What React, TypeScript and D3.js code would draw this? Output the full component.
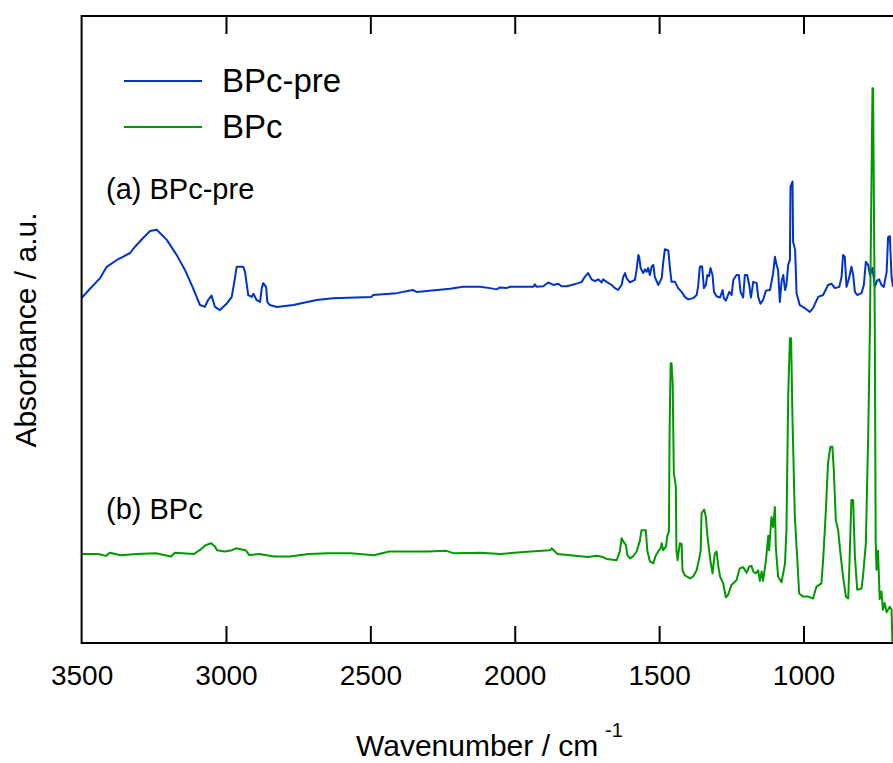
import React, { useEffect, useRef } from "react";
import * as d3 from "d3";

// Wavenumber (cm^-1) and absorbance (a.u., offset for display)
const wnA = [3500,3471,3436,3413,3374,3332,3315,3287,3263,3240,3205,3171,3142,3114,3090,3073,3062,3050,3038,3021,2998,2980,2969,2963,2940,2934,2923,2911,2905,2894,2882,2876,2871,2861,2857,2848,2824,2767,2686,2630,2496,2491,2409,2353,2340,2224,2179,2138,2120,2086,2063,2051,2028,2017,1936,1930,1924,1901,1884,1867,1849,1838,1820,1803,1780,1768,1757,1746,1734,1722,1711,1699,1694,1682,1664,1653,1642,1630,1624,1618,1613,1601,1584,1578,1572,1569,1564,1555,1549,1543,1538,1532,1526,1520,1515,1503,1491,1486,1480,1468,1463,1457,1445,1434,1422,1411,1399,1382,1370,1365,1359,1351,1345,1338,1333,1327,1322,1315,1310,1301,1289,1280,1276,1269,1257,1249,1243,1232,1224,1218,1209,1203,1195,1188,1182,1174,1162,1157,1149,1140,1130,1116,1105,1099,1093,1088,1082,1076,1070,1064,1059,1053,1047,1045,1038,1036,1029,1024,1013,995,978,967,949,932,915,903,891,876,868,863,857,851,842,834,828,822,814,799,791,784,776,770,761,753,745,738,730,722,712,707,701,695,690];
const absA = [0.550,0.565,0.582,0.600,0.612,0.622,0.632,0.646,0.657,0.659,0.643,0.619,0.595,0.566,0.539,0.536,0.547,0.554,0.536,0.531,0.541,0.552,0.582,0.600,0.600,0.592,0.555,0.552,0.557,0.547,0.544,0.566,0.574,0.568,0.544,0.539,0.536,0.539,0.547,0.550,0.552,0.555,0.558,0.563,0.560,0.565,0.568,0.568,0.568,0.566,0.564,0.567,0.566,0.568,0.568,0.572,0.568,0.569,0.575,0.571,0.573,0.569,0.569,0.571,0.574,0.576,0.584,0.590,0.580,0.577,0.580,0.575,0.580,0.576,0.571,0.566,0.563,0.571,0.584,0.590,0.582,0.575,0.579,0.595,0.619,0.616,0.598,0.590,0.596,0.592,0.598,0.587,0.600,0.603,0.584,0.571,0.582,0.606,0.628,0.626,0.600,0.576,0.576,0.566,0.560,0.552,0.548,0.550,0.555,0.568,0.600,0.601,0.566,0.571,0.587,0.585,0.598,0.587,0.560,0.553,0.551,0.563,0.550,0.546,0.560,0.555,0.579,0.587,0.587,0.560,0.551,0.587,0.587,0.571,0.551,0.576,0.574,0.552,0.541,0.547,0.562,0.563,0.590,0.616,0.603,0.595,0.544,0.576,0.587,0.563,0.571,0.603,0.611,0.728,0.736,0.640,0.627,0.558,0.539,0.534,0.528,0.534,0.552,0.555,0.571,0.573,0.566,0.568,0.584,0.619,0.616,0.568,0.582,0.600,0.587,0.560,0.555,0.558,0.571,0.608,0.603,0.587,0.598,0.568,0.578,0.580,0.571,0.568,0.592,0.647,0.649,0.584,0.568];

const wnB = [3500,3442,3416,3402,3364,3310,3243,3190,3177,3111,3091,3071,3051,3038,3031,3005,2979,2965,2932,2919,2886,2859,2833,2780,2713,2647,2568,2488,2435,2303,2237,2210,2117,2051,1945,1878,1872,1852,1746,1716,1694,1682,1647,1636,1630,1624,1615,1610,1601,1590,1578,1567,1561,1546,1541,1532,1520,1512,1503,1495,1491,1486,1476,1472,1466,1464,1463,1460,1457,1453,1451,1449,1442,1440,1436,1433,1428,1422,1419,1411,1393,1382,1370,1361,1356,1353,1344,1338,1333,1327,1322,1315,1307,1301,1295,1289,1278,1269,1261,1249,1232,1221,1209,1197,1188,1180,1174,1165,1157,1151,1145,1140,1130,1122,1119,1111,1105,1099,1096,1088,1076,1064,1059,1053,1047,1043,1038,1030,1022,1015,1001,984,967,955,938,932,923,915,907,900,895,888,880,872,863,853,845,840,834,828,822,814,799,794,784,776,770,761,759,753,750,747,742,736,730,725,719,712,701,695,692];
const absB = [0.142,0.142,0.139,0.144,0.140,0.142,0.143,0.138,0.144,0.142,0.148,0.156,0.159,0.154,0.148,0.146,0.148,0.151,0.148,0.140,0.142,0.140,0.138,0.138,0.142,0.143,0.143,0.140,0.146,0.146,0.147,0.143,0.144,0.142,0.146,0.148,0.151,0.142,0.137,0.139,0.137,0.134,0.132,0.146,0.167,0.162,0.156,0.140,0.135,0.138,0.146,0.162,0.180,0.180,0.148,0.130,0.127,0.139,0.146,0.151,0.159,0.148,0.154,0.170,0.178,0.319,0.361,0.446,0.446,0.414,0.340,0.271,0.249,0.148,0.132,0.143,0.159,0.158,0.116,0.108,0.103,0.106,0.116,0.135,0.148,0.207,0.213,0.201,0.172,0.148,0.130,0.111,0.143,0.146,0.122,0.106,0.095,0.073,0.077,0.093,0.100,0.119,0.121,0.112,0.122,0.123,0.114,0.111,0.116,0.099,0.114,0.099,0.132,0.171,0.148,0.201,0.185,0.217,0.154,0.106,0.097,0.127,0.180,0.393,0.486,0.486,0.356,0.201,0.138,0.079,0.074,0.074,0.071,0.090,0.095,0.132,0.207,0.287,0.313,0.313,0.276,0.196,0.180,0.143,0.106,0.074,0.071,0.138,0.228,0.228,0.138,0.085,0.087,0.106,0.159,0.329,0.499,0.885,0.884,0.501,0.164,0.117,0.147,0.070,0.082,0.053,0.064,0.049,0.058,0.053,0.0];

const xTicks = [3500, 3000, 2500, 2000, 1500, 1000];
const seriesNames = ["BPc-pre", "BPc"];
const seriesColors = ["#0033cc", "#009900"];
const annotations = ["(a) BPc-pre", "(b) BPc"];

const W = 893;
const H = 763;
const PL = 81.6;
const PT = 16;
const PB = 643;
const PR = 893;
const FONT = "'Liberation Sans', Arial, Helvetica, sans-serif";

export default function App() {
  const bottomRef = useRef<SVGGElement>(null);
  const topRef = useRef<SVGGElement>(null);
  const x = d3.scaleLinear().domain([3500, 690]).range([PL, PR]);
  const y = d3.scaleLinear().domain([0, 1]).range([PB, PT]);
  const line = d3
    .line<[number, number]>()
    .x((d) => x(d[0]))
    .y((d) => y(d[1]));
  const dataA: [number, number][] = wnA.map((w, i) => [w, absA[i]]);
  const dataB: [number, number][] = wnB.map((w, i) => [w, absB[i]]);

  useEffect(() => {
    if (bottomRef.current) {
      const g = d3.select(bottomRef.current);
      g.selectAll("*").remove();
      g.call(
        d3
          .axisBottom(x)
          .tickValues(xTicks)
          .tickSize(-17)
          .tickPadding(22)
          .tickFormat((d) => String(d))
      );
      g.select(".domain").remove();
      g.selectAll(".tick line").attr("stroke", "#000").attr("stroke-width", 2);
      g.selectAll(".tick text")
        .attr("font-size", 28)
        .attr("font-family", FONT)
        .attr("fill", "#000");
      g.selectAll(".tick")
        .filter((d: any) => d === 3500)
        .select("line")
        .remove();
    }
    if (topRef.current) {
      const g = d3.select(topRef.current);
      g.selectAll("*").remove();
      g.call(d3.axisTop(x).tickValues(xTicks.slice(1)).tickSize(-18).tickFormat(() => ""));
      g.select(".domain").remove();
      g.selectAll(".tick line").attr("stroke", "#000").attr("stroke-width", 2);
    }
  }, []);

  return (
    <svg
      width={W}
      height={H}
      style={{ position: "absolute", left: 0, top: 0, background: "#fff" }}
      fontFamily={FONT}
    >
      <defs>
        <clipPath id="plotClip">
          <rect x={PL} y={PT} width={PR - PL + 10} height={PB - PT} />
        </clipPath>
      </defs>
      <g clipPath="url(#plotClip)" fill="none" strokeWidth={2} strokeLinejoin="round">
        <path d={line(dataA) || ""} stroke={seriesColors[0]} />
        <path d={line(dataB) || ""} stroke={seriesColors[1]} />
      </g>
      {/* frame */}
      <path
        d={`M${PR + 5},${PT}H${PL}V${PB}H${PR + 5}`}
        fill="none"
        stroke="#000"
        strokeWidth={2}
      />
      <g ref={bottomRef} transform={`translate(0,${PB})`} />
      <g ref={topRef} transform={`translate(0,${PT})`} />
      <text x={356} y={756} fontSize={30}>
        Wavenumber / cm
      </text>
      <text x={605} y={737} fontSize={20}>
        -1
      </text>
      <text
        transform={`translate(36,330) rotate(-90)`}
        textAnchor="middle"
        fontSize={30}
      >
        Absorbance / a.u.
      </text>
      {/* legend */}
      {seriesNames.map((n, i) => (
        <g key={n}>
          <line x1={124} x2={202} y1={81 + i * 46} y2={81 + i * 46} stroke={seriesColors[i]} strokeWidth={2} />
          <text x={222} y={92 + i * 46} fontSize={33}>
            {n}
          </text>
        </g>
      ))}
      <text x={106} y={199} fontSize={29}>
        {annotations[0]}
      </text>
      <text x={106} y={519} fontSize={29}>
        {annotations[1]}
      </text>
    </svg>
  );
}
